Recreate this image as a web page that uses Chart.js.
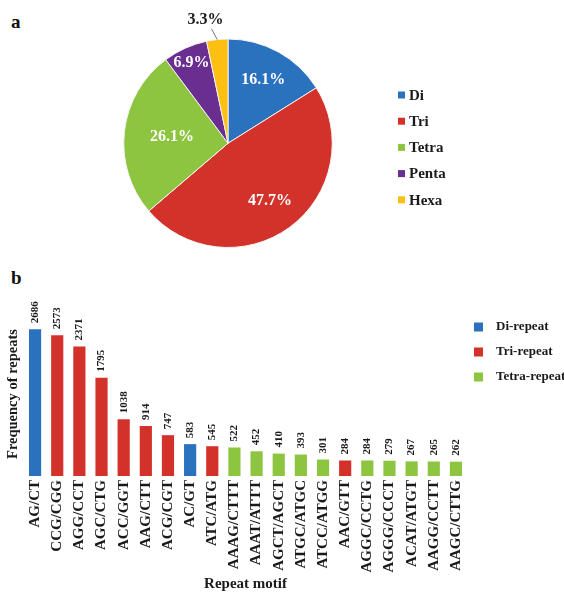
<!DOCTYPE html>
<html>
<head>
<meta charset="utf-8">
<script src="https://cdn.jsdelivr.net/npm/chart.js@4.4.1/dist/chart.umd.min.js"></script>
<style>
  html, body { margin: 0; padding: 0; background: #fff; overflow: hidden; }
  body { width: 564px; height: 592px; position: relative; font-family: "Liberation Serif", "Times New Roman", serif; }
  .panel { position: absolute; font-weight: bold; font-size: 19px; color: #111; line-height: 1; }
  canvas { position: absolute; left: 0; }
</style>
</head>
<body>
<div class="panel" style="left:11px;top:12px;">a</div>
<div class="panel" style="left:11px;top:268px;">b</div>
<canvas id="pie" width="564" height="265" style="top:0;"></canvas>
<canvas id="bar" width="564" height="322" style="top:270px;"></canvas>
<script>
// ---- Panel a: share of repeat types (%)
const repeatTypes = ['Di', 'Tri', 'Tetra', 'Penta', 'Hexa'];
const repeatShares = [16.1, 47.7, 26.1, 6.9, 3.3];

// ---- Panel b: most frequent repeat motifs
const motifs = ['AG/CT', 'CCG/CGG', 'AGG/CCT', 'AGC/CTG', 'ACC/GGT', 'AAG/CTT', 'ACG/CGT',
  'AC/GT', 'ATC/ATG', 'AAAG/CTTT', 'AAAT/ATTT', 'AGCT/AGCT', 'ATGC/ATGC', 'ATCC/ATGG',
  'AAC/GTT', 'AGGC/CCTG', 'AGGG/CCCT', 'ACAT/ATGT', 'AAGG/CCTT', 'AAGC/CTTG'];
const motifCounts = [2686, 2573, 2371, 1795, 1038, 914, 747, 583, 545, 522, 452, 410, 393,
  301, 284, 284, 279, 267, 265, 262];
const motifClass = ['Di', 'Tri', 'Tri', 'Tri', 'Tri', 'Tri', 'Tri', 'Di', 'Tri', 'Tetra',
  'Tetra', 'Tetra', 'Tetra', 'Tetra', 'Tri', 'Tetra', 'Tetra', 'Tetra', 'Tetra', 'Tetra'];
const barLegendLabels = ['Di-repeat', 'Tri-repeat', 'Tetra-repeat'];

const SERIF = '"Liberation Serif", "Times New Roman", serif';
const typeColors = {
  Di: '#2a72bd', Tri: '#d3322b', Tetra: '#8dc540', Penta: '#6a2d90', Hexa: '#fcbf12'
};

// label placement for the pie (fraction of radius); the last slice is labelled outside
const pieLabelRadius = [0.70, 0.68, 0.54, 0.85, 1.0];

const pieLabels = {
  id: 'pieLabels',
  afterDatasetsDraw(chart) {
    const ctx = chart.ctx;
    const meta = chart.getDatasetMeta(0);
    ctx.save();
    ctx.font = 'bold 16px ' + SERIF;
    ctx.textAlign = 'center';
    ctx.textBaseline = 'middle';
    meta.data.forEach((arc, i) => {
      const p = arc.getProps(['x', 'y', 'startAngle', 'endAngle', 'outerRadius'], true);
      const mid = (p.startAngle + p.endAngle) / 2;
      const text = repeatShares[i].toFixed(1) + '%';
      if (i === meta.data.length - 1) {
        const x0 = p.x + Math.cos(mid) * p.outerRadius;
        const y0 = p.y + Math.sin(mid) * p.outerRadius;
        const x1 = p.x + Math.cos(mid - 0.04) * p.outerRadius * 1.11;
        const y1 = p.y + Math.sin(mid - 0.04) * p.outerRadius * 1.11;
        ctx.strokeStyle = '#777';
        ctx.lineWidth = 1;
        ctx.beginPath();
        ctx.moveTo(x0, y0);
        ctx.lineTo(x1, y1);
        ctx.stroke();
        ctx.fillStyle = '#1a1a1a';
        ctx.fillText(text, x1 - 6, y1 - 9);
      } else {
        const r = p.outerRadius * pieLabelRadius[i];
        ctx.fillStyle = '#ffffff';
        ctx.fillText(text, p.x + Math.cos(mid) * r, p.y + Math.sin(mid) * r);
      }
    });
    ctx.restore();
  }
};

const pieLegend = {
  id: 'pieLegend',
  afterDraw(chart) {
    const ctx = chart.ctx;
    ctx.save();
    ctx.font = 'bold 15px ' + SERIF;
    ctx.textBaseline = 'middle';
    ctx.textAlign = 'left';
    repeatTypes.forEach((t, i) => {
      const y = 95 + i * 26.2;
      ctx.fillStyle = typeColors[t];
      ctx.fillRect(398, y - 3.5, 7, 7);
      ctx.fillStyle = '#1a1a1a';
      ctx.fillText(t, 409, y + 1);
    });
    ctx.restore();
  }
};

new Chart(document.getElementById('pie'), {
  type: 'pie',
  data: {
    labels: repeatTypes,
    datasets: [{
      data: repeatShares,
      backgroundColor: repeatTypes.map(t => typeColors[t]),
      borderColor: '#f4f4f4',
      borderWidth: 1
    }]
  },
  options: {
    responsive: false,
    animation: false,
    layout: { padding: { left: 123, right: 231, top: 38.5, bottom: 17 } },
    plugins: { legend: { display: false }, tooltip: { enabled: false } }
  },
  plugins: [pieLabels, pieLegend]
});

const barValueLabels = {
  id: 'barValueLabels',
  afterDatasetsDraw(chart) {
    const ctx = chart.ctx;
    const meta = chart.getDatasetMeta(0);
    ctx.save();
    ctx.font = 'bold 11px ' + SERIF;
    ctx.fillStyle = '#1a1a1a';
    ctx.textAlign = 'left';
    ctx.textBaseline = 'middle';
    meta.data.forEach((bar, i) => {
      ctx.save();
      ctx.translate(bar.x, bar.y - 6);
      ctx.rotate(-Math.PI / 2);
      ctx.fillText(String(motifCounts[i]), 0, 0);
      ctx.restore();
    });
    ctx.restore();
  }
};

const barLegend = {
  id: 'barLegend',
  afterDraw(chart) {
    const ctx = chart.ctx;
    ctx.save();
    ctx.font = 'bold 13px ' + SERIF;
    ctx.textBaseline = 'middle';
    ctx.textAlign = 'left';
    ['Di', 'Tri', 'Tetra'].forEach((t, i) => {
      const y = 57 + i * 25;
      ctx.fillStyle = typeColors[t];
      ctx.fillRect(474, y - 4.5, 9, 9);
      ctx.fillStyle = '#1a1a1a';
      ctx.fillText(barLegendLabels[i], 496, y);
    });
    ctx.restore();
  }
};

new Chart(document.getElementById('bar'), {
  type: 'bar',
  data: {
    labels: motifs,
    datasets: [{
      data: motifCounts,
      backgroundColor: motifClass.map(c => typeColors[c]),
      barPercentage: 0.55,
      categoryPercentage: 1
    }]
  },
  options: {
    responsive: false,
    animation: false,
    layout: { padding: { left: 0, right: 97, top: 42, bottom: 0 } },
    plugins: { legend: { display: false }, tooltip: { enabled: false } },
    scales: {
      x: {
        grid: { display: false, drawTicks: false },
        border: { display: false },
        ticks: {
          autoSkip: false, minRotation: 90, maxRotation: 90, padding: 4,
          color: '#1a1a1a', font: { family: SERIF, size: 15, weight: 'bold' }
        },
        title: {
          display: true, text: 'Repeat motif', color: '#1a1a1a',
          font: { family: SERIF, size: 15, weight: 'bold', lineHeight: 1 },
          padding: { top: 0, bottom: 0 }
        },
        afterFit(scale) { scale.height = 116; }
      },
      y: {
        min: 0, max: 3000,
        grid: { display: false, drawTicks: false },
        border: { display: false },
        ticks: { display: false },
        title: {
          display: true, text: 'Frequency of repeats', color: '#1a1a1a',
          font: { family: SERIF, size: 14.5, weight: 'bold', lineHeight: 1.2 },
          padding: { top: 5, bottom: 0 }
        },
        afterFit(scale) { scale.width = 24; }
      }
    }
  },
  plugins: [barValueLabels, barLegend]
});
</script>
</body>
</html>
